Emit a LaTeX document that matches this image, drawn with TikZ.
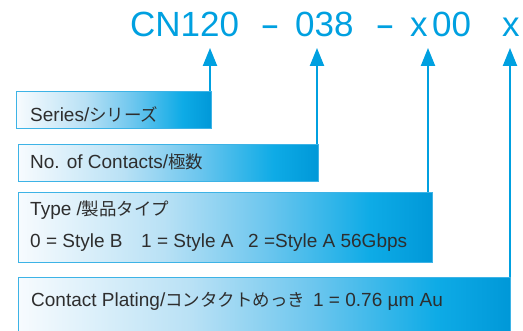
\documentclass[tikz,border=0pt]{standalone}
\usepackage{fontspec}
\setmainfont{Liberation Sans}
\newfontfamily\cjk{Noto Sans CJK JP}[Scale=0.92]
\usetikzlibrary{arrows.meta}
\definecolor{titleblue}{HTML}{00A0E0}
\definecolor{bordercol}{HTML}{3DB3E6}
\definecolor{txtcol}{HTML}{2E2E2E}
\definecolor{shA}{HTML}{F7FBFE}
\definecolor{shB}{HTML}{B9E1F5}
\definecolor{shC}{HTML}{6CC6EE}
\definecolor{shD}{HTML}{0EABE6}
\definecolor{shE}{HTML}{0098D8}
\pgfdeclarehorizontalshading{boxshade}{100bp}{color(0bp)=(shA); color(25bp)=(shA); color(42.5bp)=(shB); color(55bp)=(shC); color(67.5bp)=(shD); color(75bp)=(shE); color(100bp)=(shE)}
\tikzset{
  box/.style={rectangle, draw=bordercol, line width=1.2pt, shading=boxshade, shading angle=0, anchor=north west, inner sep=0pt},
  lbl/.style={anchor=base west, inner sep=0pt, text=txtcol, font=\fontsize{19}{22}\selectfont},
  ttl/.style={anchor=base west, inner sep=0pt, text=titleblue, font=\fontsize{35}{40}\selectfont},
  conn/.style={draw=titleblue, line width=2.2pt, -{Triangle[length=18pt,width=14pt]}}
}
\begin{document}
\begin{tikzpicture}[x=1pt,y=-1pt]
\useasboundingbox (0,0) rectangle (523,331);
\clip (0,0) rectangle (523,331);
% title
\node[ttl] (t1) at (130,37) {CN120};
\node[ttl, anchor=base] (t2) at (270,37) {\scalebox{1.7}[1]{-}};
\node[ttl] (t3) at (295,37) {038};
\node[ttl, anchor=base] (t4) at (385,37) {\scalebox{1.7}[1]{-}};
\node[ttl] (t5) at (410,37) {x};
\node[ttl] (t6) at (432,37) {00};
\node[ttl] (t7) at (502,37) {x};
% arrow tips
\coordinate (a1) at (210,48);
\coordinate (a2) at (317,48);
\coordinate (a3) at (428,48);
\coordinate (a4) at (510,48);
% boxes
\node[box, minimum width=195pt, minimum height=37pt] (b1) at (16,91) {};
\node[box, minimum width=300pt, minimum height=37pt] (b2) at (18,144) {};
\node[box, minimum width=414pt, minimum height=70pt] (b3) at (18,192) {};
\node[box, minimum width=492pt, minimum height=70pt] (b4) at (18,277) {};
% connectors
\draw[conn] (b1.north -| a1) -- (a1);
\draw[conn] (b2.north -| a2) -- (a2);
\draw[conn] (b3.north -| a3) -- (a3);
\draw[conn] (b4.north -| a4) -- (a4);
% labels
\node[lbl] (l1) at (30,122) {Series/{\cjk シリーズ}};
\node[lbl] (l2) at (30,169) {No. of Contacts/{\cjk 極数}};
\node[lbl] (l3) at (30,216) {Type /{\cjk 製品タイプ}};
\node[lbl] (l3a) at (30,248) {0 = Style B};
\node[lbl] (l3b) at (141,248) {1 = Style A};
\node[lbl] (l3c) at (248,248) {2 =Style A 56Gbps};
\node[lbl] (l4) at (31,307) {Contact Plating/{\cjk コンタクトめっき}\hspace{8pt}1 = 0.76 µm Au};
\end{tikzpicture}
\end{document}
